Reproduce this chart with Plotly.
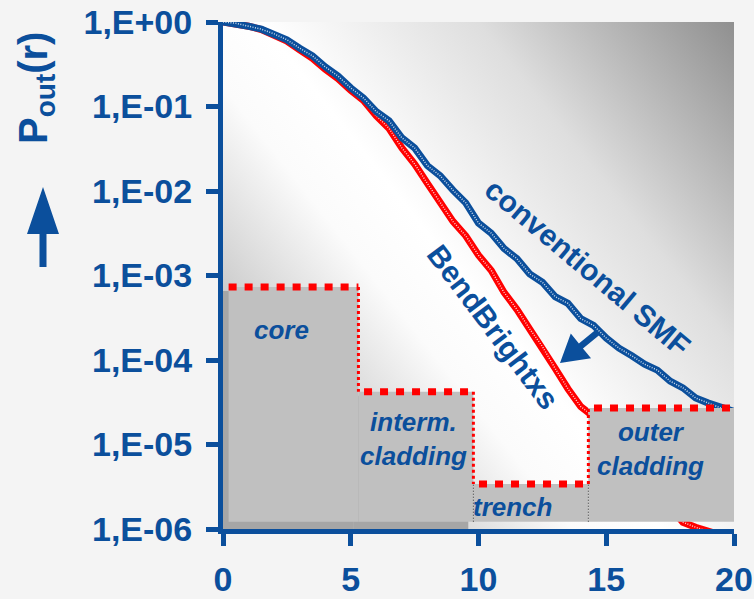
import base64
import math
import plotly.graph_objects as go

# ---------------- data ----------------
radius_um = [i * 0.5 for i in range(41)]  # 0 .. 20 in steps of 0.5

# log10 of P_out(r)
smf_log10 = [0.00, -0.015, -0.05, -0.085, -0.14, -0.21, -0.31, -0.40, -0.53, -0.64,
             -0.78, -0.90, -1.06, -1.17, -1.37, -1.49, -1.70, -1.82, -1.99, -2.14,
             -2.38, -2.50, -2.68, -2.80, -2.98, -3.08, -3.25, -3.33, -3.51, -3.59,
             -3.74, -3.86, -3.95, -4.05, -4.12, -4.25, -4.33, -4.45, -4.51, -4.57, -4.61]
bbxs_log10 = [0.00, -0.015, -0.05, -0.09, -0.15, -0.225, -0.33, -0.43, -0.56, -0.67,
              -0.81, -0.93, -1.11, -1.26, -1.49, -1.68, -1.91, -2.13, -2.36, -2.53,
              -2.76, -2.94, -3.20, -3.40, -3.63, -3.84, -4.10, -4.34, -4.55, -4.67,
              -4.85, -5.02, -5.20, -5.38, -5.55, -5.74, -5.92, -5.98, -6.03, -6.07, -6.12]

smf_pout = [10 ** v for v in smf_log10]
bbxs_pout = [10 ** v for v in bbxs_log10]

# index-profile regions
region_names = ["core", "interm.<br>cladding", "trench", "outer<br>cladding"]
region_edges = [0.0, 5.3, 9.8, 14.3, 20.0]
region_levels = [7.3e-4, 4.2e-5, 3.4e-6, 2.7e-5]
region_bottom = 1.22e-6

# axis ticks
y_tickvals = [1e0, 1e-1, 1e-2, 1e-3, 1e-4, 1e-5, 1e-6]
y_ticktext = ["1,E+00", "1,E-01", "1,E-02", "1,E-03", "1,E-04", "1,E-05", "1,E-06"]
x_tickvals = [0, 5, 10, 15, 20]

# ---------------- style ----------------
BLUE = "#0b4f9c"
RED = "#ff0000"
GRAY = "#c0c0c0"
FONT = "Liberation Sans, Arial, sans-serif"

W, H = 754, 599
L, R, T, B = 223, 20, 22, 70
PW, PH = W - L - R, H - T - B


def px(xp):
    return (xp - L) / PW


def py(yp):
    return (H - B - yp) / PH


# gradient background as an SVG image
svg = f'''<svg xmlns="http://www.w3.org/2000/svg" width="{PW}" height="{PH}" viewBox="0 0 {PW} {PH}" preserveAspectRatio="none">
<defs><linearGradient id="g" gradientUnits="userSpaceOnUse" x1="-157" y1="124" x2="330" y2="-260">
<stop offset="0" stop-color="#c0c0c0"/>
<stop offset="0.258" stop-color="#fbfbfb"/>
<stop offset="0.371" stop-color="#ffffff"/>
<stop offset="0.645" stop-color="#dedede"/>
<stop offset="1" stop-color="#888888"/>
</linearGradient></defs>
<rect x="0" y="0" width="{PW}" height="{PH}" fill="url(#g)"/>
</svg>'''
svg_uri = "data:image/svg+xml;base64," + base64.b64encode(svg.encode()).decode()

fig = go.Figure()

# curves (thick coloured line with light dotted texture)
for xs, ys, col in [(radius_um, bbxs_pout, RED), (radius_um, smf_pout, BLUE)]:
    fig.add_trace(go.Scatter(x=xs, y=ys, mode="lines",
                             line=dict(color=col, width=7), showlegend=False,
                             hoverinfo="skip"))
    fig.add_trace(go.Scatter(x=xs, y=ys, mode="lines",
                             line=dict(color="rgba(255,255,255,0.8)", width=1.5,
                                       dash="1px,1.5px"),
                             showlegend=False, hoverinfo="skip"))

shapes = []
# shadows under core and intermediate cladding
shapes.append(dict(type="rect", xref="x", yref="y", x0=region_edges[0], x1=region_edges[1] - 0.2,
                   y0=1e-6, y1=region_levels[0] * 0.9, fillcolor="#a6a6a6",
                   line=dict(width=0), layer="above"))
shapes.append(dict(type="rect", xref="x", yref="y", x0=region_edges[1] - 0.2, x1=region_edges[2] - 0.2,
                   y0=1e-6, y1=region_levels[1] * 0.9, fillcolor="#a6a6a6",
                   line=dict(width=0), layer="above"))
# gray region blocks
for i in range(4):
    x0 = region_edges[i] + (0.22 if i == 0 else 0.0)
    shapes.append(dict(type="rect", xref="x", yref="y", x0=x0, x1=region_edges[i + 1],
                       y0=region_bottom, y1=region_levels[i], fillcolor=GRAY,
                       line=dict(width=0), layer="above"))
# thin black dotted edges of the trench
for i in (2, 3):
    shapes.append(dict(type="line", xref="x", yref="y", x0=region_edges[i], x1=region_edges[i],
                       y0=region_bottom, y1=region_levels[2], layer="above",
                       line=dict(color="#333333", width=1, dash="1px,2px")))
# red dotted vertical steps
for i in (1, 2, 3):
    shapes.append(dict(type="line", xref="x", yref="y", x0=region_edges[i], x1=region_edges[i],
                       y0=region_levels[i - 1], y1=region_levels[i], layer="above",
                       line=dict(color=RED, width=3, dash="3px,3px")))
# red square-dotted tops
for i in range(4):
    shapes.append(dict(type="line", xref="x", yref="y", x0=region_edges[i] + 0.22,
                       x1=region_edges[i + 1], y0=region_levels[i], y1=region_levels[i],
                       layer="above", line=dict(color=RED, width=7, dash="8px,8px")))


def arrow_path(tail, tip, head_len, head_half, shaft_half):
    dx, dy = tip[0] - tail[0], tip[1] - tail[1]
    n = math.hypot(dx, dy)
    ux, uy = dx / n, dy / n
    vx, vy = -uy, ux
    bx, by = tip[0] - head_len * ux, tip[1] - head_len * uy
    pts = [tip,
           (bx + head_half * vx, by + head_half * vy),
           (bx + shaft_half * vx, by + shaft_half * vy),
           (tail[0] + shaft_half * vx, tail[1] + shaft_half * vy),
           (tail[0] - shaft_half * vx, tail[1] - shaft_half * vy),
           (bx - shaft_half * vx, by - shaft_half * vy),
           (bx - head_half * vx, by - head_half * vy)]
    return "M" + " L".join(f"{px(a):.5f},{py(b):.5f}" for a, b in pts) + " Z"


# vertical arrow next to the y title
shapes.append(dict(type="path", xref="paper", yref="paper", layer="above",
                   path=arrow_path((43, 267), (43, 187), 47, 16, 3.5),
                   fillcolor=BLUE, line=dict(width=0)))
# diagonal arrow pointing at the BendBright curve
shapes.append(dict(type="path", xref="paper", yref="paper", layer="above",
                   path=arrow_path((598, 332), (560, 363), 27, 16, 3.2),
                   fillcolor=BLUE, line=dict(width=0)))

annotations = []
# region labels
label_pos = [(2.3, -3.645), (7.45, -4.93), (11.33, -5.74), (16.75, -5.05)]
for name, (xa, ya) in zip(region_names, label_pos):
    annotations.append(dict(x=xa, y=ya, xref="x", yref="y", text=name, showarrow=False,
                            xanchor="center", yanchor="middle",
                            font=dict(family=FONT, size=26, color=BLUE, weight="bold",
                                      style="italic")))
# curve labels
annotations.append(dict(x=14.27, y=-2.91, xref="x", yref="y", text="conventional SMF",
                        showarrow=False, textangle=40, xanchor="center", yanchor="middle",
                        font=dict(family=FONT, size=30, color=BLUE, weight="bold")))
annotations.append(dict(x=10.6, y=-3.61, xref="x", yref="y", text="BendBrightxs",
                        showarrow=False, textangle=53, xanchor="center", yanchor="middle",
                        font=dict(family=FONT, size=30, color=BLUE, weight="bold")))
# y title
annotations.append(dict(x=px(36), y=py(88), xref="paper", yref="paper",
                        text="P<sub>out</sub>(r)", showarrow=False, textangle=-90,
                        xanchor="center", yanchor="middle",
                        font=dict(family=FONT, size=40, color=BLUE, weight="bold")))

fig.update_layout(
    width=W, height=H,
    margin=dict(l=L, r=R, t=T, b=B, pad=0, autoexpand=False),
    paper_bgcolor="#f4f4f4",
    plot_bgcolor="rgba(0,0,0,0)",
    shapes=shapes,
    annotations=annotations,
    images=[dict(source=svg_uri, xref="paper", yref="paper", x=0, y=1, sizex=1, sizey=1,
                 xanchor="left", yanchor="top", sizing="stretch", layer="below")],
    xaxis=dict(range=[0, 20], tickvals=x_tickvals, ticktext=[str(v) for v in x_tickvals],
               automargin=False,
               showgrid=False, zeroline=False, showline=True, linecolor=BLUE, linewidth=5,
               ticks="outside", ticklen=12, tickwidth=5, tickcolor=BLUE,
               ticklabelstandoff=4,
               tickfont=dict(family=FONT, size=34, color=BLUE, weight="bold")),
    yaxis=dict(type="log", range=[-6, 0], tickvals=y_tickvals, ticktext=y_ticktext,
               automargin=False,
               showgrid=False, zeroline=False, showline=True, linecolor=BLUE, linewidth=5,
               ticks="outside", ticklen=12, tickwidth=5, tickcolor=BLUE,
               ticklabelstandoff=7,
               tickfont=dict(family=FONT, size=34, color=BLUE, weight="bold")),
)

fig.write_html("out.html")
